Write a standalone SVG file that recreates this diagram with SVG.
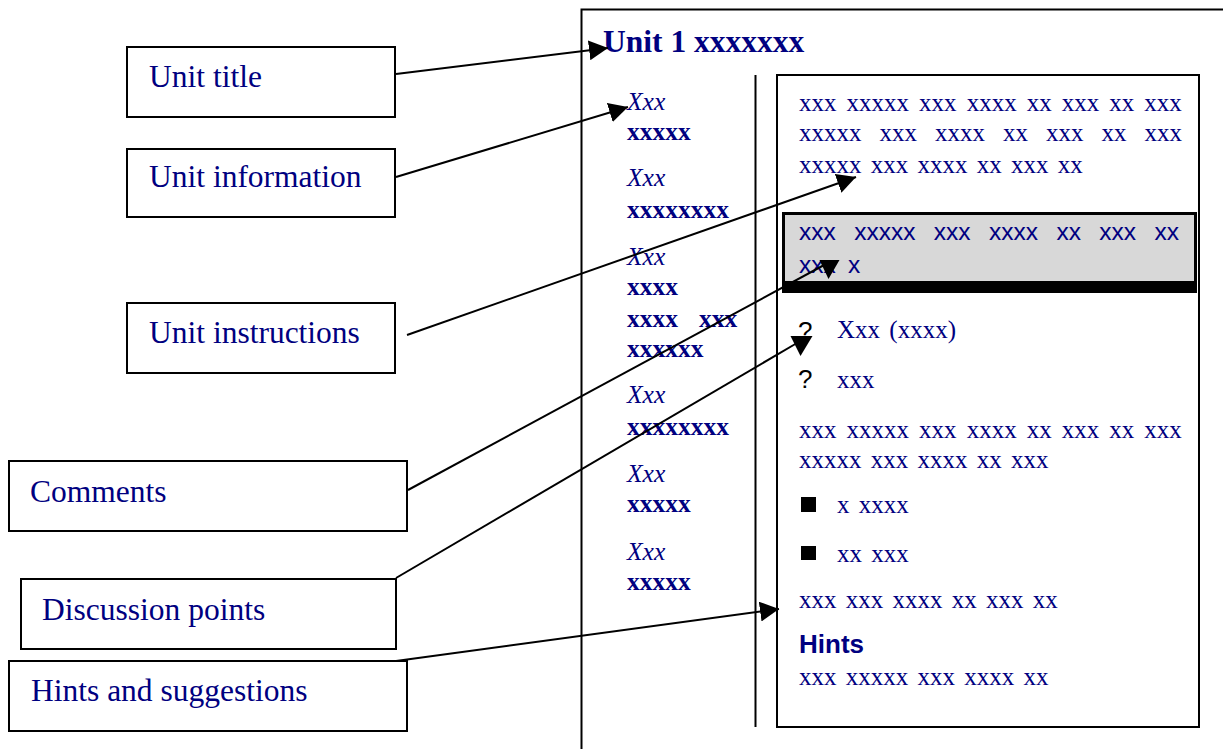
<svg xmlns="http://www.w3.org/2000/svg" width="1223" height="749" viewBox="0 0 1223 749">
<style>
.box{fill:#fff;stroke:#000;stroke-width:2}
.lbl{font-family:"Liberation Serif","Times New Roman",serif;font-size:31.5px;fill:#000080}
.ttl{font-family:"Liberation Serif","Times New Roman",serif;font-size:31.5px;font-weight:bold;fill:#000080}
.it{font-family:"Liberation Serif","Times New Roman",serif;font-size:25.5px;font-style:italic;fill:#000080}
.bd{font-family:"Liberation Serif","Times New Roman",serif;font-size:25.5px;font-weight:bold;fill:#000080}
.tx{font-family:"Liberation Serif","Times New Roman",serif;font-size:25px;fill:#000080;word-spacing:3px}
.sx{font-family:"Liberation Sans",Arial,sans-serif;font-size:24.5px;fill:#000080}
.hd{font-family:"Liberation Sans",Arial,sans-serif;font-size:26px;font-weight:bold;fill:#000080}
.q{font-family:"Liberation Sans",Arial,sans-serif;font-size:26px;fill:#000}
.ln{fill:none;stroke:#000;stroke-width:2}
</style>
<defs>
<marker id="ah" markerUnits="userSpaceOnUse" markerWidth="20" markerHeight="20" refX="19" refY="10" orient="auto">
<path d="M0,0 L19,10 L0,20 z" fill="#000"/>
</marker>
</defs>

<g id="page">
<rect x="581.5" y="9.5" width="800" height="800" class="box"/>
<text x="603" y="52" class="ttl">Unit 1 xxxxxxx</text>
<line x1="755.5" y1="75" x2="755.5" y2="727" class="ln"/>
<g id="side-column">
<text x="627" y="110" class="it">Xxx</text>
<text x="627" y="140" class="bd">xxxxx</text>
<text x="627" y="186" class="it">Xxx</text>
<text x="627" y="218" class="bd">xxxxxxxx</text>
<text x="627" y="265" class="it">Xxx</text>
<text x="627" y="295" class="bd">xxxx</text>
<text x="627" y="327" class="bd">xxxx <tspan x="699">xxx</tspan></text>
<text x="627" y="357" class="bd">xxxxxx</text>
<text x="627" y="403" class="it">Xxx</text>
<text x="627" y="435" class="bd">xxxxxxxx</text>
<text x="627" y="482" class="it">Xxx</text>
<text x="627" y="512" class="bd">xxxxx</text>
<text x="627" y="560" class="it">Xxx</text>
<text x="627" y="590" class="bd">xxxxx</text>
</g>
<g id="main-column">
<rect x="777" y="75" width="422" height="652" class="box"/>
<text x="799" y="111" class="tx" style="word-spacing:3.8px">xxx xxxxx xxx xxxx xx xxx xx xxx</text>
<text x="799" y="141" class="tx" style="word-spacing:11.75px">xxxxx xxx xxxx xx xxx xx xxx</text>
<text x="799" y="173" class="tx">xxxxx xxx xxxx xx xxx xx</text>
<g id="comment-box">
<rect x="782" y="212" width="415" height="81" fill="#000"/>
<rect x="785" y="215" width="409" height="66" fill="#d8d8d8"/>
<text x="799" y="240" class="sx" style="word-spacing:11.6px">xxx xxxxx xxx xxxx xx xxx xx</text>
<text x="799" y="273" class="sx">xxx <tspan x="848">x</tspan></text>
</g>
<text x="798" y="340" class="q">?</text>
<text x="837" y="338" class="tx">Xxx (xxxx)</text>
<text x="798" y="388" class="q">?</text>
<text x="837" y="388" class="tx">xxx</text>
<text x="799" y="438" class="tx" style="word-spacing:3.8px">xxx xxxxx xxx xxxx xx xxx xx xxx</text>
<text x="799" y="468" class="tx">xxxxx xxx xxxx xx xxx</text>
<rect x="801" y="497" width="15" height="15" fill="#000"/>
<text x="837" y="513" class="tx">x xxxx</text>
<rect x="801" y="546" width="15" height="14" fill="#000"/>
<text x="837" y="562" class="tx">xx xxx</text>
<text x="799" y="608" class="tx">xxx xxx xxxx xx xxx xx</text>
<text x="799" y="653" class="hd">Hints</text>
<text x="799" y="685" class="tx">xxx xxxxx xxx xxxx xx</text>
</g>
</g>

<g id="unit-title">
<rect x="127" y="47" width="268" height="70" class="box"/>
<text x="149" y="87" class="lbl">Unit title</text>
</g>
<g id="unit-information">
<rect x="127" y="149" width="268" height="68" class="box"/>
<text x="149" y="187" class="lbl">Unit information</text>
</g>
<g id="unit-instructions">
<rect x="127" y="303" width="268" height="70" class="box"/>
<text x="149" y="343" class="lbl">Unit instructions</text>
</g>
<g id="comments">
<rect x="9" y="461" width="398" height="70" class="box"/>
<text x="30" y="502" class="lbl">Comments</text>
</g>
<g id="discussion-points">
<rect x="21" y="579" width="375" height="70" class="box"/>
<text x="42" y="620" class="lbl">Discussion points</text>
</g>
<g id="hints-and-suggestions">
<rect x="9" y="661" width="398" height="70" class="box"/>
<text x="31" y="701" class="lbl">Hints and suggestions</text>
</g>

<g id="connectors">
<line x1="396" y1="74" x2="608" y2="48" class="ln" marker-end="url(#ah)"/>
<line x1="396" y1="177" x2="628" y2="107" class="ln" marker-end="url(#ah)"/>
<line x1="407" y1="335" x2="856" y2="177" class="ln" marker-end="url(#ah)"/>
<line x1="408" y1="490" x2="826" y2="264" class="ln"/>
<polygon points="819.5,260 839.5,260 828.5,279" fill="#000"/>
<line x1="396" y1="578" x2="797" y2="343" class="ln"/>
<polygon points="790.5,336 812.5,336 800.5,356" fill="#000"/>
<line x1="396" y1="661" x2="779" y2="609" class="ln" marker-end="url(#ah)"/>
</g>
</svg>
